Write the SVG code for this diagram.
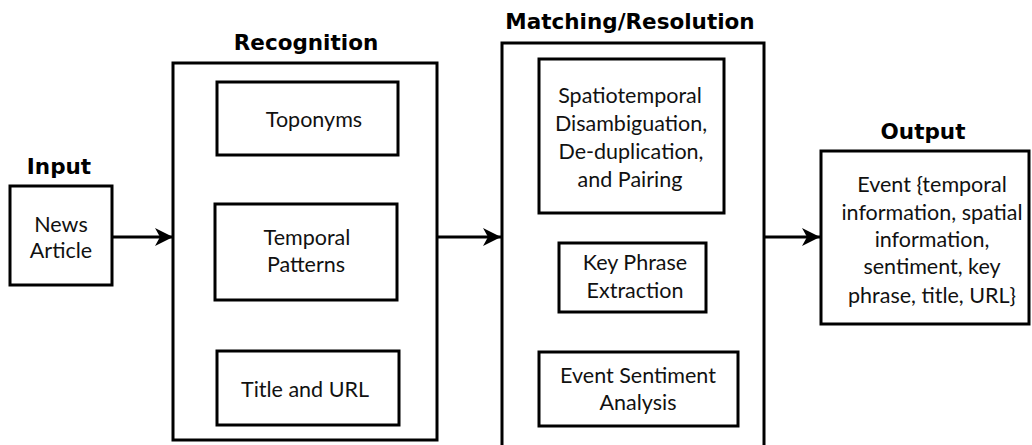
<svg xmlns="http://www.w3.org/2000/svg" width="1032" height="445" viewBox="0 0 1032 445">
  <defs>
    <marker id="arrow" markerUnits="userSpaceOnUse" markerWidth="20" markerHeight="18" refX="18" refY="9" orient="auto">
      <path d="M0,0 L18,9 L0,18 L5,9 Z" fill="#000"/>
    </marker>
    <style>
      .box { fill: #fff; stroke: #000; stroke-width: 3; }
      .inner { fill: #fff; stroke: #000; stroke-width: 3; }
      .label { font-family: Lato, "Open Sans", sans-serif; font-size: 21.5px; fill: #111; text-anchor: middle; }
      .title { font-family: "DejaVu Sans", sans-serif; font-size: 21.5px; font-weight: bold; fill: #000; text-anchor: middle; }
      .conn { stroke: #000; stroke-width: 3; fill: none; marker-end: url(#arrow); }
    </style>
  </defs>
  <rect width="1032" height="445" fill="#fff"/>

  <!-- Input -->
  <g id="input">
    <text class="title" x="59" y="174">Input</text>
    <rect class="box" x="10" y="186" width="102" height="99"/>
    <text class="label" x="61" y="232">News</text>
    <text class="label" x="61" y="258">Article</text>
  </g>

  <!-- Recognition -->
  <g id="recognition">
    <text class="title" x="306" y="50">Recognition</text>
    <rect class="box" x="173" y="63" width="264" height="377"/>
  </g>
  <g id="toponyms">
    <rect class="inner" x="217" y="82" width="181" height="73"/>
    <text class="label" x="314" y="127">Toponyms</text>
  </g>
  <g id="temporal-patterns">
    <rect class="inner" x="215" y="204" width="182" height="96"/>
    <text class="label" x="307" y="245">Temporal</text>
    <text class="label" x="306" y="272">Patterns</text>
  </g>
  <g id="title-url">
    <rect class="inner" x="217" y="351" width="182" height="74"/>
    <text class="label" x="305" y="397">Title and URL</text>
  </g>

  <!-- Matching/Resolution -->
  <g id="matching">
    <text class="title" x="630" y="29">Matching/Resolution</text>
    <rect class="box" x="502" y="43" width="262" height="410"/>
  </g>
  <g id="spatiotemporal">
    <rect class="inner" x="539" y="59" width="185" height="154"/>
    <text class="label" x="630" y="103">Spatiotemporal</text>
    <text class="label" x="631" y="131">Disambiguation,</text>
    <text class="label" x="631" y="159">De-duplication,</text>
    <text class="label" x="630" y="187">and Pairing</text>
  </g>
  <g id="key-phrase">
    <rect class="inner" x="559" y="243" width="147" height="69"/>
    <text class="label" x="635" y="270">Key Phrase</text>
    <text class="label" x="635" y="298">Extraction</text>
  </g>
  <g id="sentiment">
    <rect class="inner" x="539" y="352" width="199" height="74"/>
    <text class="label" x="638" y="383">Event Sentiment</text>
    <text class="label" x="638" y="410">Analysis</text>
  </g>

  <!-- Output -->
  <g id="output">
    <text class="title" x="923" y="139">Output</text>
    <rect class="box" x="821" y="151" width="208" height="173"/>
    <text class="label" x="932" y="192">Event {temporal</text>
    <text class="label" x="932" y="220">information, spatial</text>
    <text class="label" x="932" y="247">information,</text>
    <text class="label" x="932" y="274">sentiment, key</text>
    <text class="label" x="932" y="303">phrase, title, URL}</text>
  </g>

  <!-- Connectors -->
  <g id="connectors">
    <line class="conn" x1="112" y1="237" x2="173" y2="237"/>
    <line class="conn" x1="437" y1="237" x2="501" y2="237"/>
    <line class="conn" x1="764" y1="237" x2="820" y2="237"/>
  </g>
</svg>
